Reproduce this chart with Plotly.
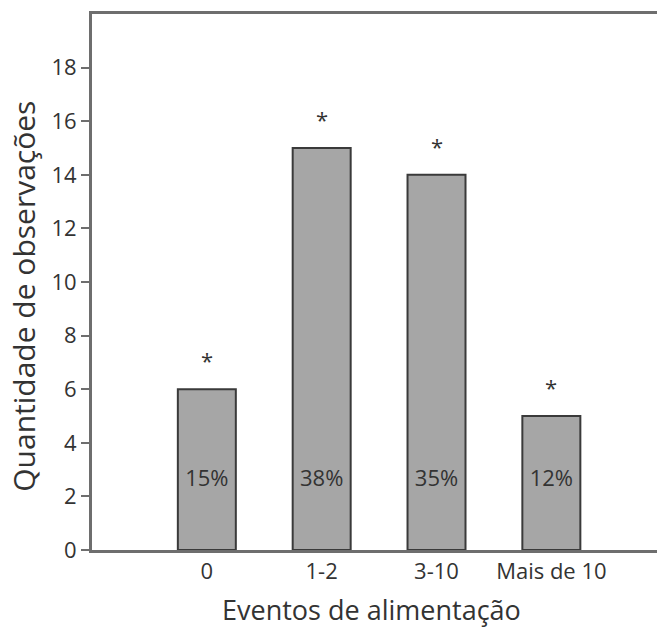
import plotly.graph_objects as go

categories = ["0", "1-2", "3-10", "Mais de 10"]
counts = [6, 15, 14, 5]
percent_labels = ["15%", "38%", "35%", "12%"]
significance = ["*", "*", "*", "*"]
y_ticks = [0, 2, 4, 6, 8, 10, 12, 14, 16, 18]

xpos = list(range(len(categories)))
font_family = "Open Sans, Noto Sans, DejaVu Sans, sans-serif"
text_color = "#333333"
axis_color = "#6e6e6e"

fig = go.Figure()
fig.add_trace(go.Bar(
    x=xpos, y=counts, width=0.505,
    marker=dict(color="#a6a6a6", line=dict(color="#3a3a3a", width=2)),
    showlegend=False, hoverinfo="skip",
))

# percentage labels inside bars
fig.add_trace(go.Scatter(
    x=xpos, y=[2.6] * len(xpos), mode="text", text=percent_labels,
    textfont=dict(family=font_family, size=22, color=text_color),
    showlegend=False, hoverinfo="skip",
))

for xi, c, s in zip(xpos, counts, significance):
    fig.add_annotation(x=xi, y=c, text=s, showarrow=False, yshift=29,
                       yanchor="middle",
                       font=dict(family=font_family, size=22, color=text_color))

# axis titles
fig.add_annotation(text="Quantidade de observações", textangle=-90,
                   xref="paper", x=0, xshift=-68, xanchor="center",
                   yref="y", y=9.45, yanchor="middle", showarrow=False,
                   font=dict(family=font_family, size=30, color=text_color))
fig.add_annotation(text="Eventos de alimentação",
                   xref="x", x=1.43, xanchor="center",
                   yref="paper", y=0, yshift=-59, yanchor="middle", showarrow=False,
                   font=dict(family=font_family, size=27, color=text_color))

fig.update_layout(
    width=657, height=629,
    margin=dict(l=92, r=0, t=14, b=79),
    plot_bgcolor="white", paper_bgcolor="white",
    font=dict(family=font_family, color=text_color),
)
fig.update_xaxes(
    range=[-1.0, 3.92],
    tickvals=xpos, ticktext=categories,
    tickfont=dict(size=22, color=text_color),
    showline=True, linecolor=axis_color, linewidth=3, mirror=True,
    ticks="", showgrid=False, zeroline=False,
)
fig.update_yaxes(
    range=[0, 20],
    tickvals=y_ticks,
    tickfont=dict(size=22, color=text_color),
    showline=True, linecolor=axis_color, linewidth=3,
    ticks="outside", ticklen=8, tickcolor=axis_color, tickwidth=2,
    showgrid=False, zeroline=False,
)

fig.write_html(
    "out.html",
    config={"displayModeBar": False},
    post_script="document.body.style.margin='0';document.body.style.overflow='hidden';",
)
